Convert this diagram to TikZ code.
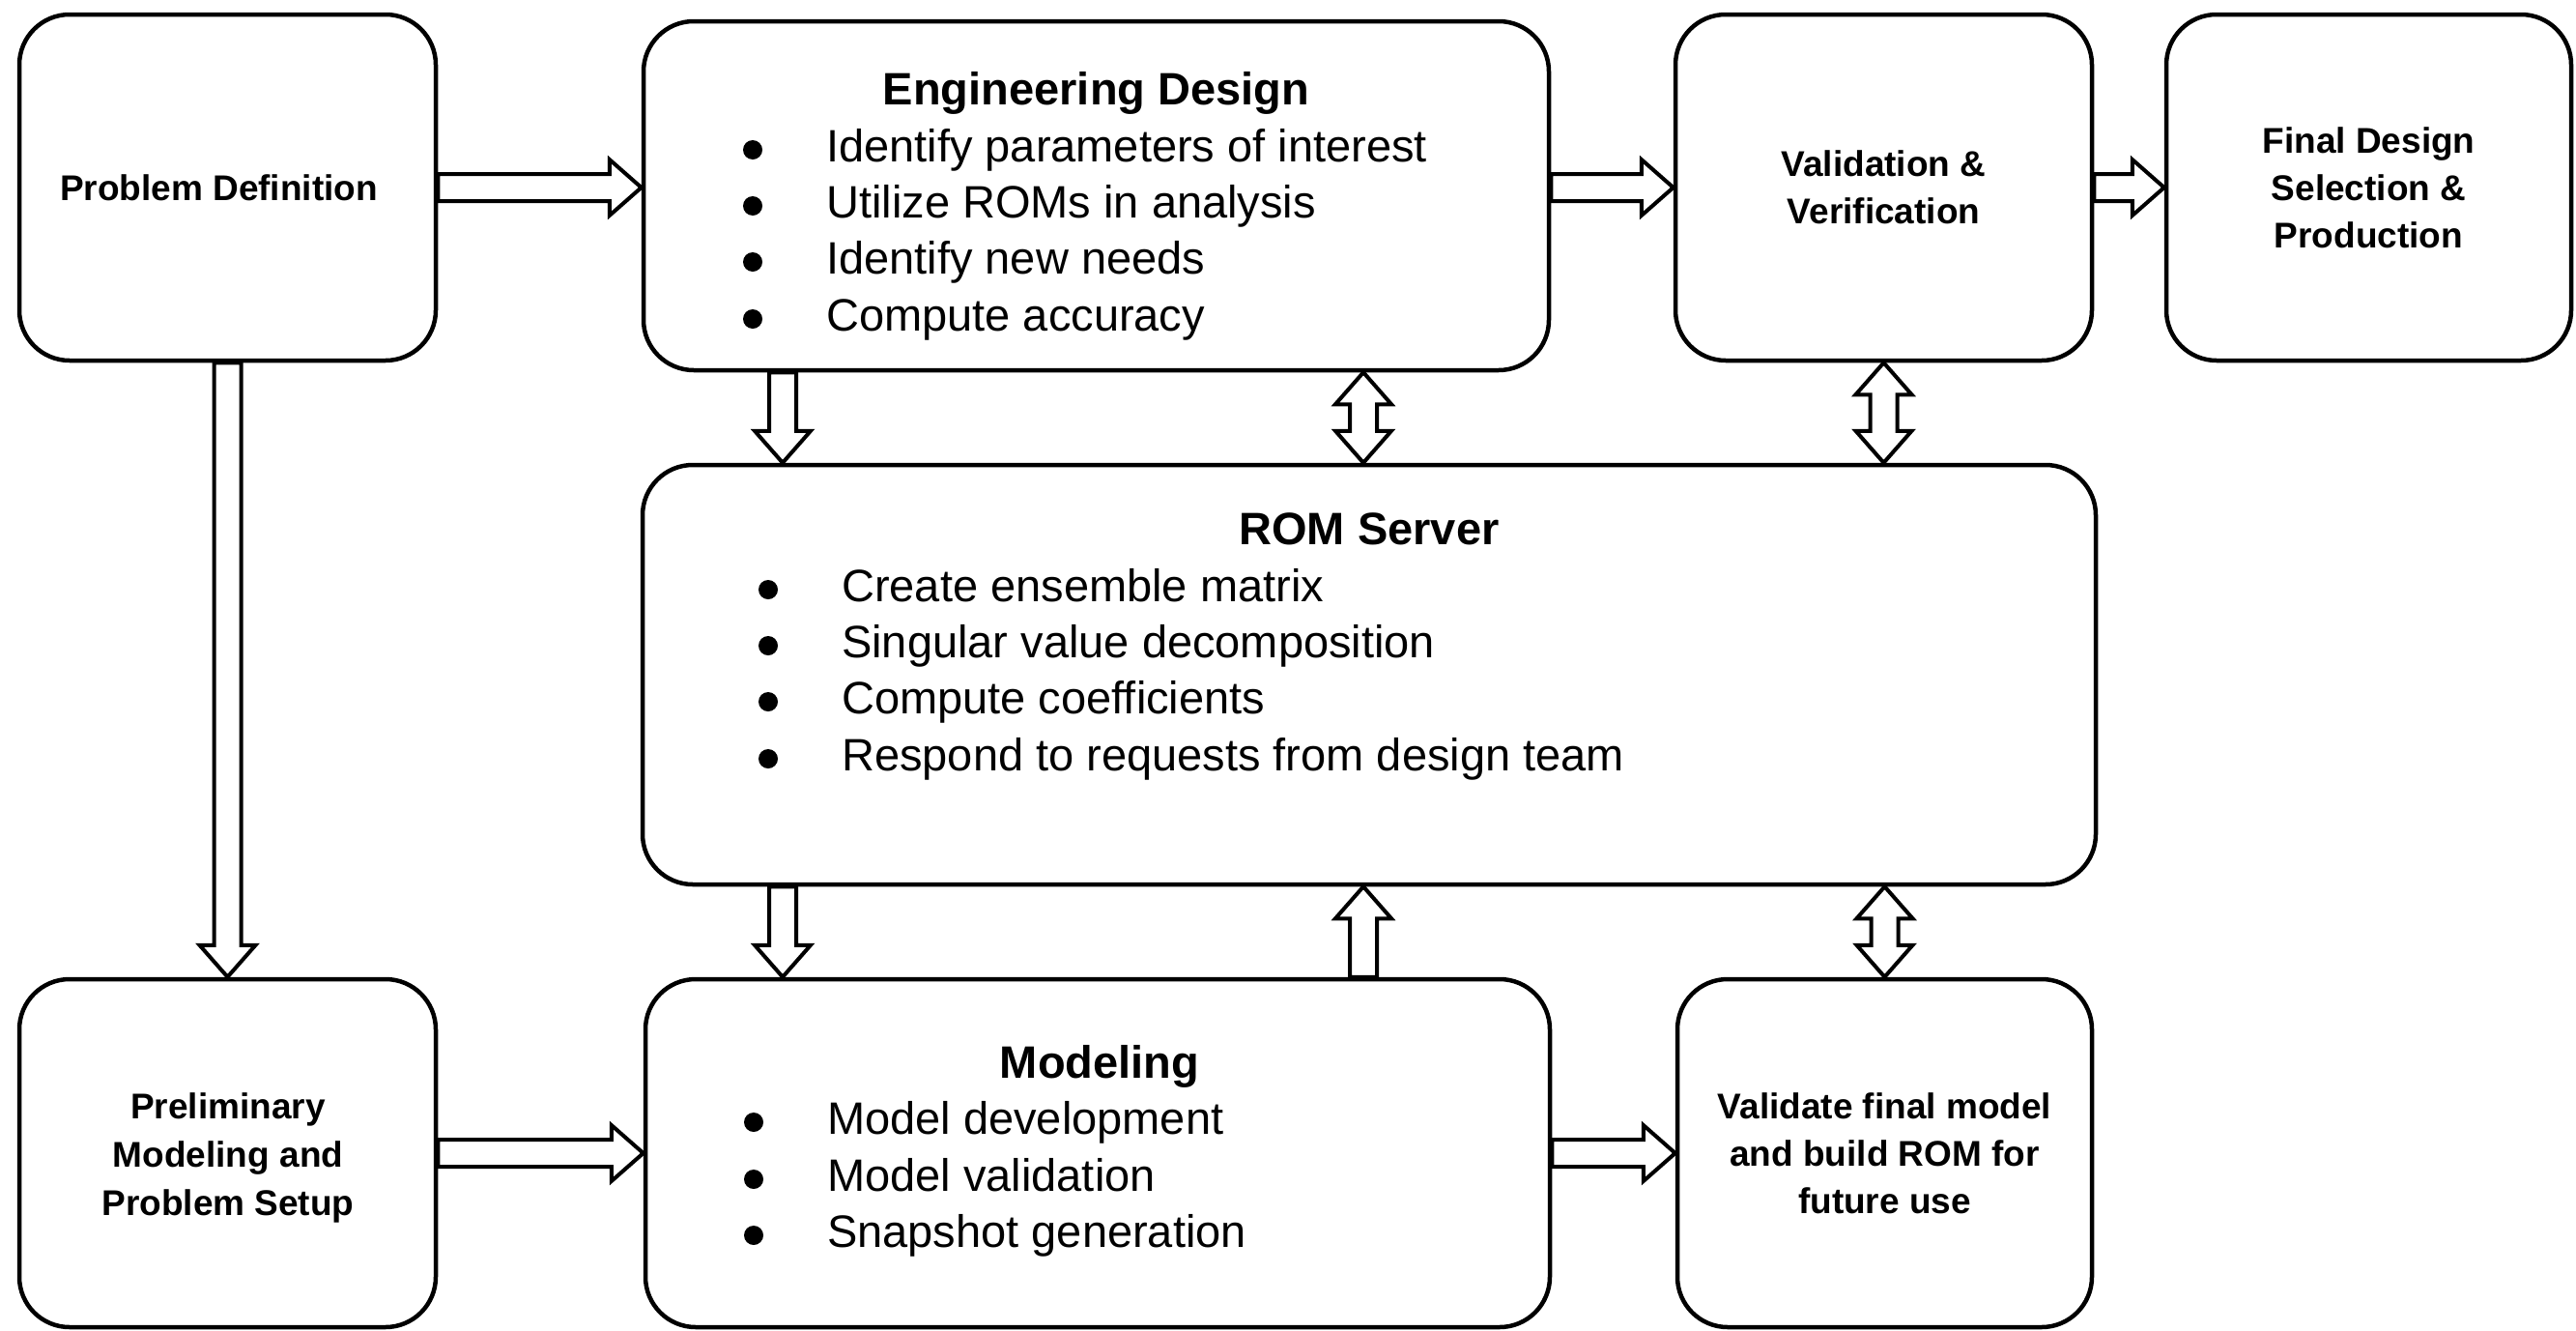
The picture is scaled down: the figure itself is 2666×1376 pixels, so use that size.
\documentclass[tikz,border=0pt]{standalone}
\usepackage{fontspec}
\setmainfont{Liberation Sans}
\usetikzlibrary{calc}

% block arrow geometry: half shaft width, half head width, head length
\newcommand\bsw{14pt}
\newcommand\bhw{29pt}
\newcommand\bhl{33pt}

\tikzset{
  box/.style={draw, line width=4.5pt, rounded corners=52pt, inner sep=0pt, fill=white},
  lbl/.style={font=\fontsize{37}{49}\selectfont\bfseries, align=center},
  heading/.style={font=\fontsize{47}{56}\selectfont\bfseries, inner sep=0pt, anchor=base},
  item/.style={font=\fontsize{47}{56}\selectfont, inner sep=0pt, anchor=base west},
  blockarrow/.style={draw, line width=4pt, fill=white, line join=miter, miter limit=10},
  % hollow arrow with one head, built from the start and target points
  single block/.style={to path={
    let \p1=(\tikztostart), \p2=(\tikztotarget),
        \n1={veclen(\x2-\x1,\y2-\y1)},
        \n2={(\x2-\x1)/\n1}, \n3={(\y2-\y1)/\n1}
    in
    ({\x1-\bsw*\n3},{\y1+\bsw*\n2})
    -- ({\x1+(\n1-\bhl)*\n2-\bsw*\n3},{\y1+(\n1-\bhl)*\n3+\bsw*\n2})
    -- ({\x1+(\n1-\bhl)*\n2-\bhw*\n3},{\y1+(\n1-\bhl)*\n3+\bhw*\n2})
    -- (\p2)
    -- ({\x1+(\n1-\bhl)*\n2+\bhw*\n3},{\y1+(\n1-\bhl)*\n3-\bhw*\n2})
    -- ({\x1+(\n1-\bhl)*\n2+\bsw*\n3},{\y1+(\n1-\bhl)*\n3-\bsw*\n2})
    -- ({\x1+\bsw*\n3},{\y1-\bsw*\n2})
    -- cycle}},
  % hollow arrow with a head at both ends
  double block/.style={to path={
    let \p1=(\tikztostart), \p2=(\tikztotarget),
        \n1={veclen(\x2-\x1,\y2-\y1)},
        \n2={(\x2-\x1)/\n1}, \n3={(\y2-\y1)/\n1}
    in
    (\p1)
    -- ({\x1+\bhl*\n2-\bhw*\n3},{\y1+\bhl*\n3+\bhw*\n2})
    -- ({\x1+\bhl*\n2-\bsw*\n3},{\y1+\bhl*\n3+\bsw*\n2})
    -- ({\x1+(\n1-\bhl)*\n2-\bsw*\n3},{\y1+(\n1-\bhl)*\n3+\bsw*\n2})
    -- ({\x1+(\n1-\bhl)*\n2-\bhw*\n3},{\y1+(\n1-\bhl)*\n3+\bhw*\n2})
    -- (\p2)
    -- ({\x1+(\n1-\bhl)*\n2+\bhw*\n3},{\y1+(\n1-\bhl)*\n3-\bhw*\n2})
    -- ({\x1+(\n1-\bhl)*\n2+\bsw*\n3},{\y1+(\n1-\bhl)*\n3-\bsw*\n2})
    -- ({\x1+\bhl*\n2+\bsw*\n3},{\y1+\bhl*\n3-\bsw*\n2})
    -- ({\x1+\bhl*\n2+\bhw*\n3},{\y1+\bhl*\n3-\bhw*\n2})
    -- cycle}},
}

% round bullet in front of a list item
\newcommand\listdot[1]{\fill ($(#1.base west)+(-76pt,12pt)$) circle (10pt);}

\begin{document}
\begin{tikzpicture}[x=1pt, y=-1pt]
\fill[white] (0,0) rectangle (2666,1376);
\path[use as bounding box] (0,0) rectangle (2666,1376);

% ---------- boxes ----------
\node[box, minimum width=431pt, minimum height=358pt] (pd) at (235.5,194) {};
\node[lbl] (pdt) at (226.5,194) {Problem Definition};
\node[box, minimum width=937pt, minimum height=361pt] (ed) at (1134.5,202.5) {};
\node[box, lbl, minimum width=431pt, minimum height=358pt] (vv) at (1949.5,194) {Validation \&\\Verification};
\node[box, lbl, minimum width=419pt, minimum height=358pt] (fd) at (2451.5,194) {Final Design\\Selection \&\\Production};
\node[box, minimum width=1504pt, minimum height=434pt] (rom) at (1417,698) {};
\node[box, minimum width=431pt, minimum height=360pt] (pm) at (235.5,1193) {};
\node[lbl, font=\fontsize{37}{50}\selectfont\bfseries] (pmt) at (236,1198) {Preliminary\\Modeling and\\Problem Setup};
\node[box, minimum width=936pt, minimum height=360pt] (md) at (1136,1193) {};
\node[box, lbl, minimum width=429pt, minimum height=360pt] (vf) at (1950.5,1193) {Validate final model\\and build ROM for\\future use};

% ---------- engineering design ----------
\node[heading] (edt) at (1134.5,108) {Engineering Design};
\node[item] (ed1) at (855,167) {Identify parameters of interest};
\node[item] (ed2) at (855,225) {Utilize ROMs in analysis};
\node[item] (ed3) at (855,283) {Identify new needs};
\node[item] (ed4) at (855,342) {Compute accuracy};
\listdot{ed1}\listdot{ed2}\listdot{ed3}\listdot{ed4}

% ---------- ROM server ----------
\node[heading] (romt) at (1417,563) {ROM Server};
\node[item] (rom1) at (871,622) {Create ensemble matrix};
\node[item] (rom2) at (871,680) {Singular value decomposition};
\node[item] (rom3) at (871,738) {Compute coefficients};
\node[item] (rom4) at (871,797) {Respond to requests from design team};
\listdot{rom1}\listdot{rom2}\listdot{rom3}\listdot{rom4}

% ---------- modeling ----------
\node[heading] (mdt) at (1138,1115) {Modeling};
\node[item] (md1) at (856,1173) {Model development};
\node[item] (md2) at (856,1232) {Model validation};
\node[item] (md3) at (856,1290) {Snapshot generation};
\listdot{md1}\listdot{md2}\listdot{md3}

% ---------- connectors ----------
\coordinate (colA) at (810,0);
\coordinate (colB) at (1411,0);

\draw[blockarrow] (pd.east) to[single block] (pd.east -| ed.west);
\draw[blockarrow] (vv.west -| ed.east) to[single block] (vv.west);
\draw[blockarrow] (vv.east) to[single block] (fd.west);
\draw[blockarrow] (pm.east) to[single block] (pm.east -| md.west);
\draw[blockarrow] (md.east) to[single block] (vf.west);

\draw[blockarrow] (pd.south) to[single block] (pm.north);
\draw[blockarrow] (ed.south -| colA) to[single block] (rom.north -| colA);
\draw[blockarrow] (ed.south -| colB) to[double block] (rom.north -| colB);
\draw[blockarrow] (vv.south) to[double block] (vv.south |- rom.north);
\draw[blockarrow] (rom.south -| colA) to[single block] (md.north -| colA);
\draw[blockarrow] (md.north -| colB) to[single block] (rom.south -| colB);
\draw[blockarrow] (vf.north |- rom.south) to[double block] (vf.north);
\end{tikzpicture}
\end{document}
